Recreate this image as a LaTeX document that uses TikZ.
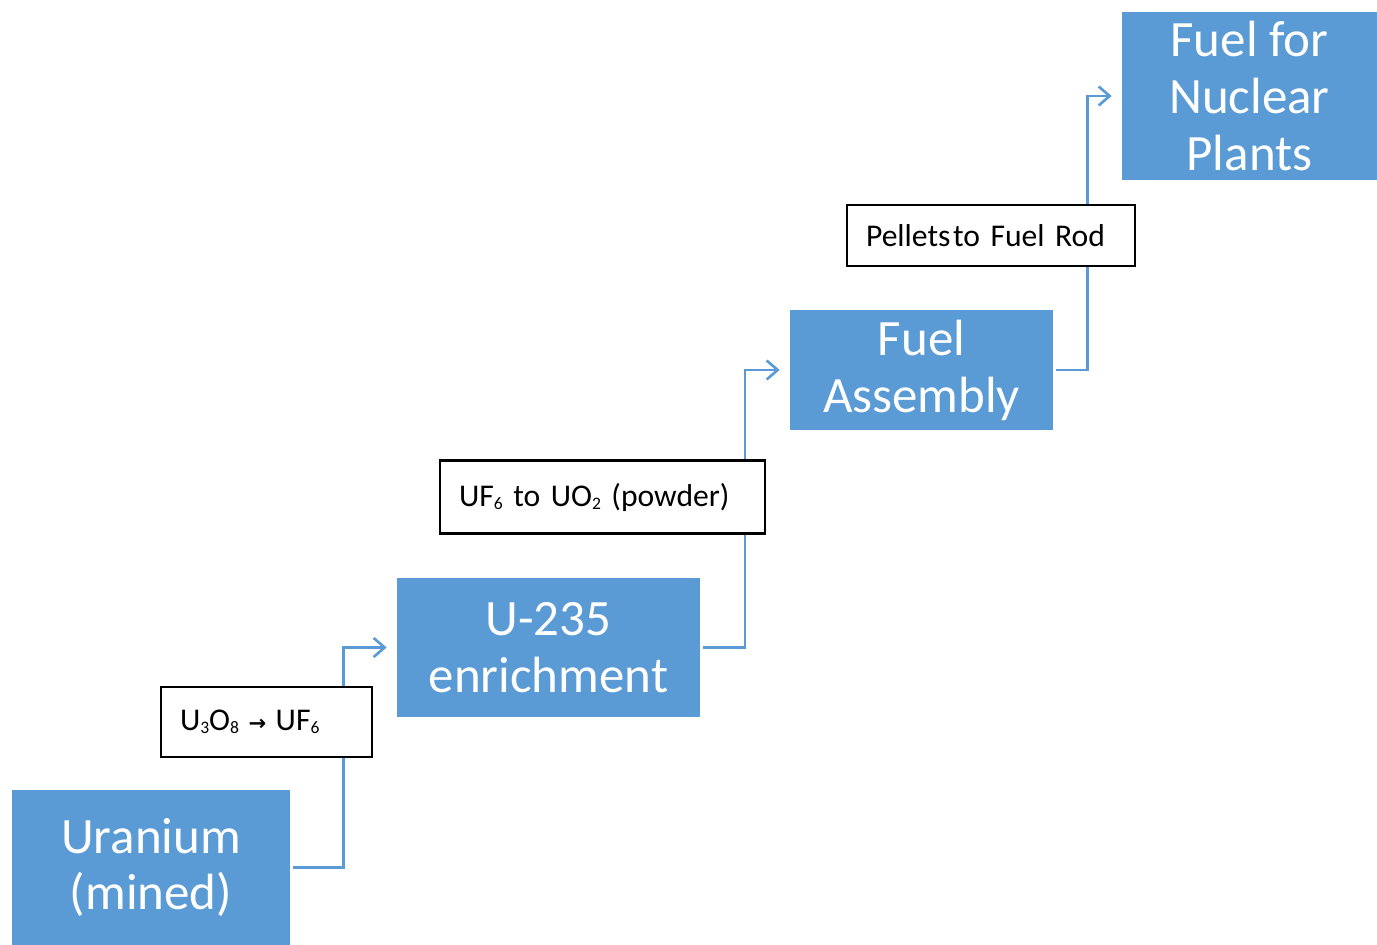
\documentclass[tikz,border=0pt]{standalone}
\usepackage{fontspec}
\setmainfont{Carlito}
\newfontfamily\arrowfont{DejaVu Sans}
\usetikzlibrary{arrows.meta,calc}
\definecolor{stageblue}{HTML}{5B9BD5}
\newcommand{\tightspaces}{\spaceskip=0.2em plus 0.05em\relax}
\tikzstyle{stage}=[fill=stageblue,text=white,align=center,inner sep=0pt,font=\fontsize{29}{32.4}\selectfont]
\tikzstyle{process}=[draw=black,line width=1.3pt,fill=white,align=left,inner xsep=0.38cm,inner ysep=0pt,font=\fontsize{18}{20}\selectfont\tightspaces]
\tikzstyle{flow}=[draw=stageblue,line width=1.5pt,-{Straight Barb[length=2.2mm,width=3.8mm]},shorten >=0.2cm,shorten <=0.06cm]
\newcommand{\chemsub}[1]{\raisebox{-0.2ex}{\fontsize{10}{10}\selectfont#1}}
\newcommand{\drawsteps}[2][]{
	\foreach \a/\b in {#2}{
		\draw[flow,#1] (\a.east) -| ($(\a.east)!0.5!(\b.west)$) |- (\b.west);
	}
}

\begin{document}
\begin{tikzpicture}[x=0.02cm,y=-0.02cm]
\useasboundingbox (0,0) rectangle (1377,945);
\node[stage,minimum width=5.56cm,minimum height=3.1cm] (ore) at (151,867.5) {Uranium\\(mined)};
\node[stage,minimum width=6.06cm,minimum height=2.78cm] (enrich) at (548.5,647.5) {U-235\\enrichment};
\node[stage,minimum width=5.26cm,minimum height=2.4cm] (assembly) at (921.5,370) {Fuel\\Assembly};
\node[stage,minimum width=5.1cm,minimum height=3.36cm] (plant) at (1249.5,96) {Fuel for\\Nuclear\\Plants};

\drawsteps{ore/enrich,enrich/assembly,assembly/plant}

\node[process,text width=3.46cm,minimum height=1.4cm] (convert) at (266.5,722) {U\chemsub{3}O\chemsub{8}\kern0.3em{\arrowfont\bfseries\fontsize{12}{12}\selectfont →}\kern0.3em UF\chemsub{6}};
\node[process,text width=5.74cm,minimum height=1.46cm] (powder) at (602.5,497) {UF\chemsub{6} to UO\chemsub{2} (powder)};
\node[process,text width=5.0cm,minimum height=1.22cm] (rod) at (991,235.5) {Pellets\kern0.08em to Fuel Rod};
\end{tikzpicture}
\end{document}
